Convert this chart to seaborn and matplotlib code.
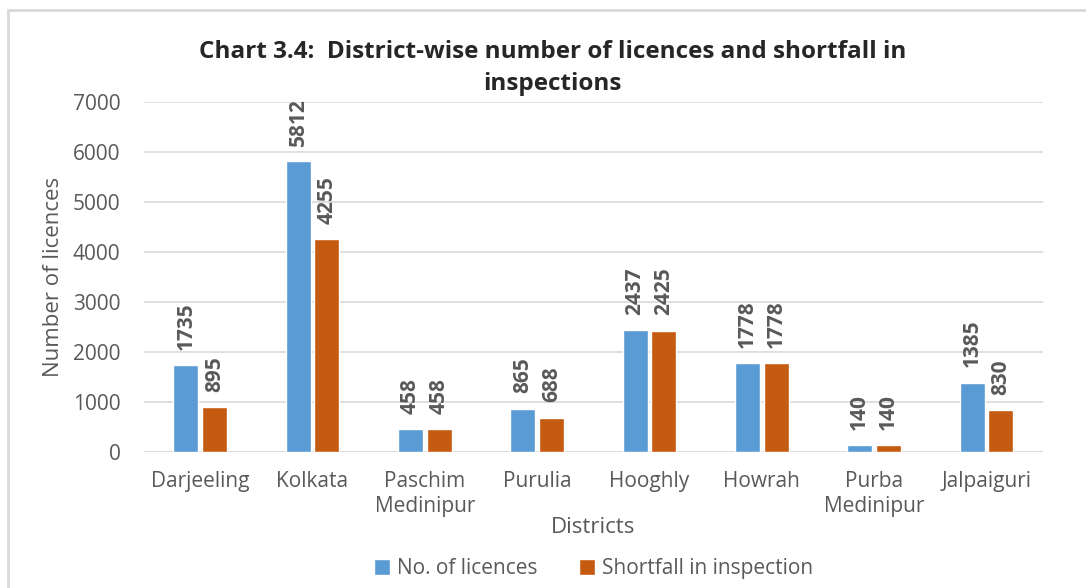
import seaborn as sns
import pandas as pd
import matplotlib.pyplot as plt
from matplotlib.patches import Rectangle

districts = ["Darjeeling", "Kolkata", "Paschim\nMedinipur", "Purulia", "Hooghly",
             "Howrah", "Purba\nMedinipur", "Jalpaiguri"]
licences = [1735, 5812, 458, 865, 2437, 1778, 140, 1385]
shortfall = [895, 4255, 458, 688, 2425, 1778, 140, 830]
series = ["No. of licences", "Shortfall in inspection"]
colors = ["#5B9BD5", "#C55A11"]

df = pd.DataFrame({
    "district": districts * 2,
    "value": licences + shortfall,
    "series": [series[0]] * len(districts) + [series[1]] * len(districts),
})

sns.set_theme(style="white")
plt.rcParams["font.family"] = ["Open Sans", "DejaVu Sans"]

fig = plt.figure(figsize=(10.86, 5.88), dpi=100)
ax = fig.add_axes([0.1326, 0.2313, 0.8274, 0.5952])

sns.barplot(data=df, x="district", y="value", hue="series", palette=colors,
            saturation=1, width=0.51, gap=0.13, ax=ax, legend=True)

for cont in ax.containers:
    ax.bar_label(cont, labels=[f"{int(v)}" for v in cont.datavalues], rotation=90,
                 padding=11, fontsize=15, fontweight="bold", color="#595959")

ax.set_ylim(0, 7000)
ax.set_yticks(range(0, 7001, 1000))
ax.yaxis.grid(True, color="#D9D9D9", linewidth=1.2)
ax.set_axisbelow(True)
for s in ax.spines.values():
    s.set_visible(False)
ax.axhline(0, color="#D9D9D9", linewidth=1.2, zorder=0)
ax.tick_params(axis="both", length=0, labelsize=15, labelcolor="#595959")
ax.tick_params(axis="y", pad=17)
ax.tick_params(axis="x", pad=14)
ax.set_xlim(-0.5, len(districts) - 0.5)

ax.set_ylabel("Number of licences", fontsize=16, color="#595959", labelpad=6)
ax.set_xlabel("Districts", fontsize=16, color="#595959", labelpad=0)

leg = ax.legend(loc="center", bbox_to_anchor=(0.5, -0.334), ncol=2, frameon=False,
                fontsize=15, handlelength=0.8, handleheight=0.8, handletextpad=0.3,
                columnspacing=2.0)
for t in leg.get_texts():
    t.set_color("#595959")

fig.text(0.509, 0.884, "Chart 3.4:  District-wise number of licences and shortfall in\ninspections",
         ha="center", va="center", fontsize=17.5, fontweight="bold", color="#262626",
         linespacing=1.45)

fig.patches.append(Rectangle((8 / 1086, -0.1), 1.2, 1 - 10 / 588 + 0.1,
                             transform=fig.transFigure, fill=False,
                             edgecolor="#D9D9D9", linewidth=2))

fig.savefig("out.png", dpi=100)
